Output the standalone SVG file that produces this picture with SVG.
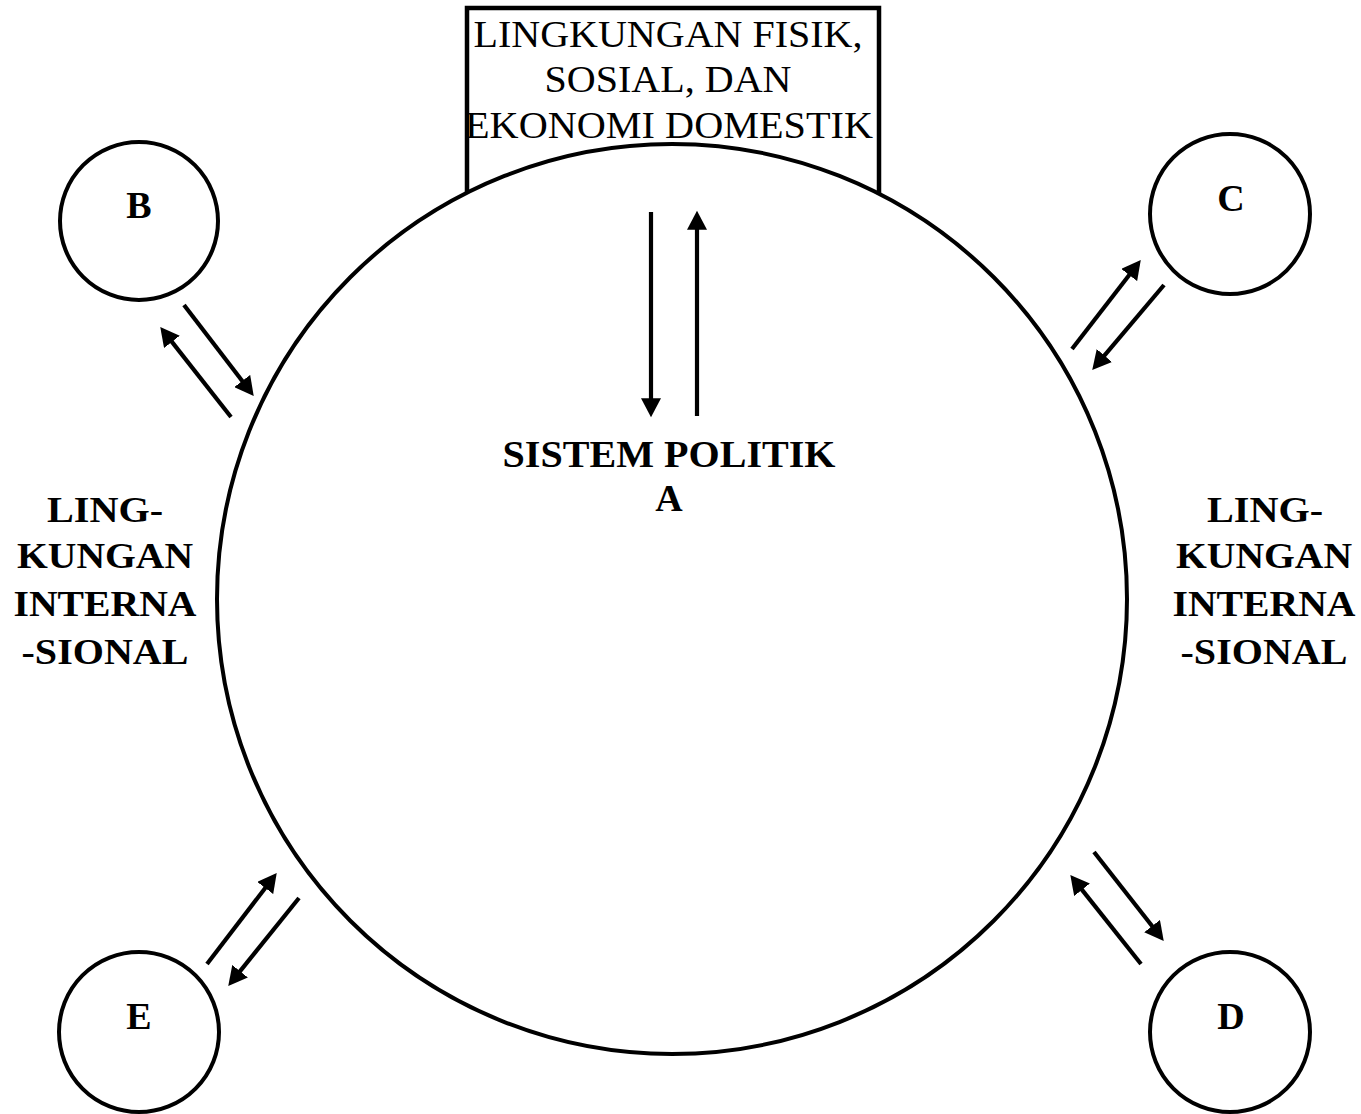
<svg xmlns="http://www.w3.org/2000/svg" width="1361" height="1114" viewBox="0 0 1361 1114">
<style>
.ring{fill:#fff;stroke:#000;stroke-width:4}
.box{fill:#fff;stroke:#000;stroke-width:4.5}
.conn line{stroke:#000;stroke-width:4.2;marker-end:url(#ah)}
.t{font-family:"Liberation Serif","Times New Roman",serif;fill:#000;text-anchor:middle}
.b{font-weight:bold}
</style>
<defs>
<marker id="ah" markerUnits="userSpaceOnUse" markerWidth="20" markerHeight="20" refX="6" refY="9" orient="auto" viewBox="0 0 18 18">
<path d="M0,0 L17,9 L0,18 z" fill="#000"/>
</marker>
<clipPath id="boxclip"><rect x="469" y="10" width="408" height="180"/></clipPath>
</defs>
<rect width="1361" height="1114" fill="#fff"/>
<g id="domestik">
<rect class="box" x="467" y="8" width="412" height="200"/>
<g clip-path="url(#boxclip)">
<text class="t" x="668" y="47" font-size="38" textLength="389" lengthAdjust="spacingAndGlyphs">LINGKUNGAN FISIK,</text>
<text class="t" x="668" y="92" font-size="38" textLength="247" lengthAdjust="spacingAndGlyphs">SOSIAL, DAN</text>
<text class="t" x="669" y="138" font-size="38" textLength="408" lengthAdjust="spacingAndGlyphs">EKONOMI DOMESTIK</text>
</g>
</g>
<g id="A">
<circle class="ring" cx="672" cy="599" r="455"/>
<text class="t b" x="669" y="467" font-size="38" textLength="333" lengthAdjust="spacingAndGlyphs">SISTEM POLITIK</text>
<text class="t b" x="669" y="511" font-size="38">A</text>
</g>
<g id="B">
<circle class="ring" cx="139" cy="221" r="79"/>
<text class="t b" x="139" y="218" font-size="38">B</text>
</g>
<g id="C">
<circle class="ring" cx="1230" cy="214" r="80"/>
<text class="t b" x="1231" y="211" font-size="38">C</text>
</g>
<g id="D">
<circle class="ring" cx="1230" cy="1032" r="80"/>
<text class="t b" x="1231" y="1029" font-size="38">D</text>
</g>
<g id="E">
<circle class="ring" cx="139" cy="1032" r="80"/>
<text class="t b" x="139" y="1029" font-size="38">E</text>
</g>
<g id="intl-left">
<text class="t b" x="105" y="522" font-size="35" textLength="116" lengthAdjust="spacingAndGlyphs">LING-</text>
<text class="t b" x="105" y="568" font-size="35" textLength="176" lengthAdjust="spacingAndGlyphs">KUNGAN</text>
<text class="t b" x="105" y="616" font-size="35" textLength="183" lengthAdjust="spacingAndGlyphs">INTERNA</text>
<text class="t b" x="105" y="664" font-size="35" textLength="167" lengthAdjust="spacingAndGlyphs">-SIONAL</text>
</g>
<g id="intl-right">
<text class="t b" x="1265" y="522" font-size="35" textLength="116" lengthAdjust="spacingAndGlyphs">LING-</text>
<text class="t b" x="1264" y="568" font-size="35" textLength="176" lengthAdjust="spacingAndGlyphs">KUNGAN</text>
<text class="t b" x="1264" y="616" font-size="35" textLength="183" lengthAdjust="spacingAndGlyphs">INTERNA</text>
<text class="t b" x="1264" y="664" font-size="35" textLength="167" lengthAdjust="spacingAndGlyphs">-SIONAL</text>
</g>
<g id="connectors" class="conn">
<line x1="651" y1="212" x2="651" y2="405"/>
<line x1="697" y1="416" x2="697" y2="223"/>
<line x1="184" y1="305" x2="246.3" y2="386.3"/>
<line x1="231" y1="417" x2="167.8" y2="336.6"/>
<line x1="1072" y1="349" x2="1133.3" y2="269.7"/>
<line x1="1164" y1="285" x2="1100.1" y2="360.6"/>
<line x1="207" y1="964" x2="269.3" y2="882.7"/>
<line x1="299" y1="898" x2="235.9" y2="976.4"/>
<line x1="1094" y1="852" x2="1156.2" y2="931.3"/>
<line x1="1141" y1="964" x2="1077.9" y2="884.6"/>
</g>
</svg>
